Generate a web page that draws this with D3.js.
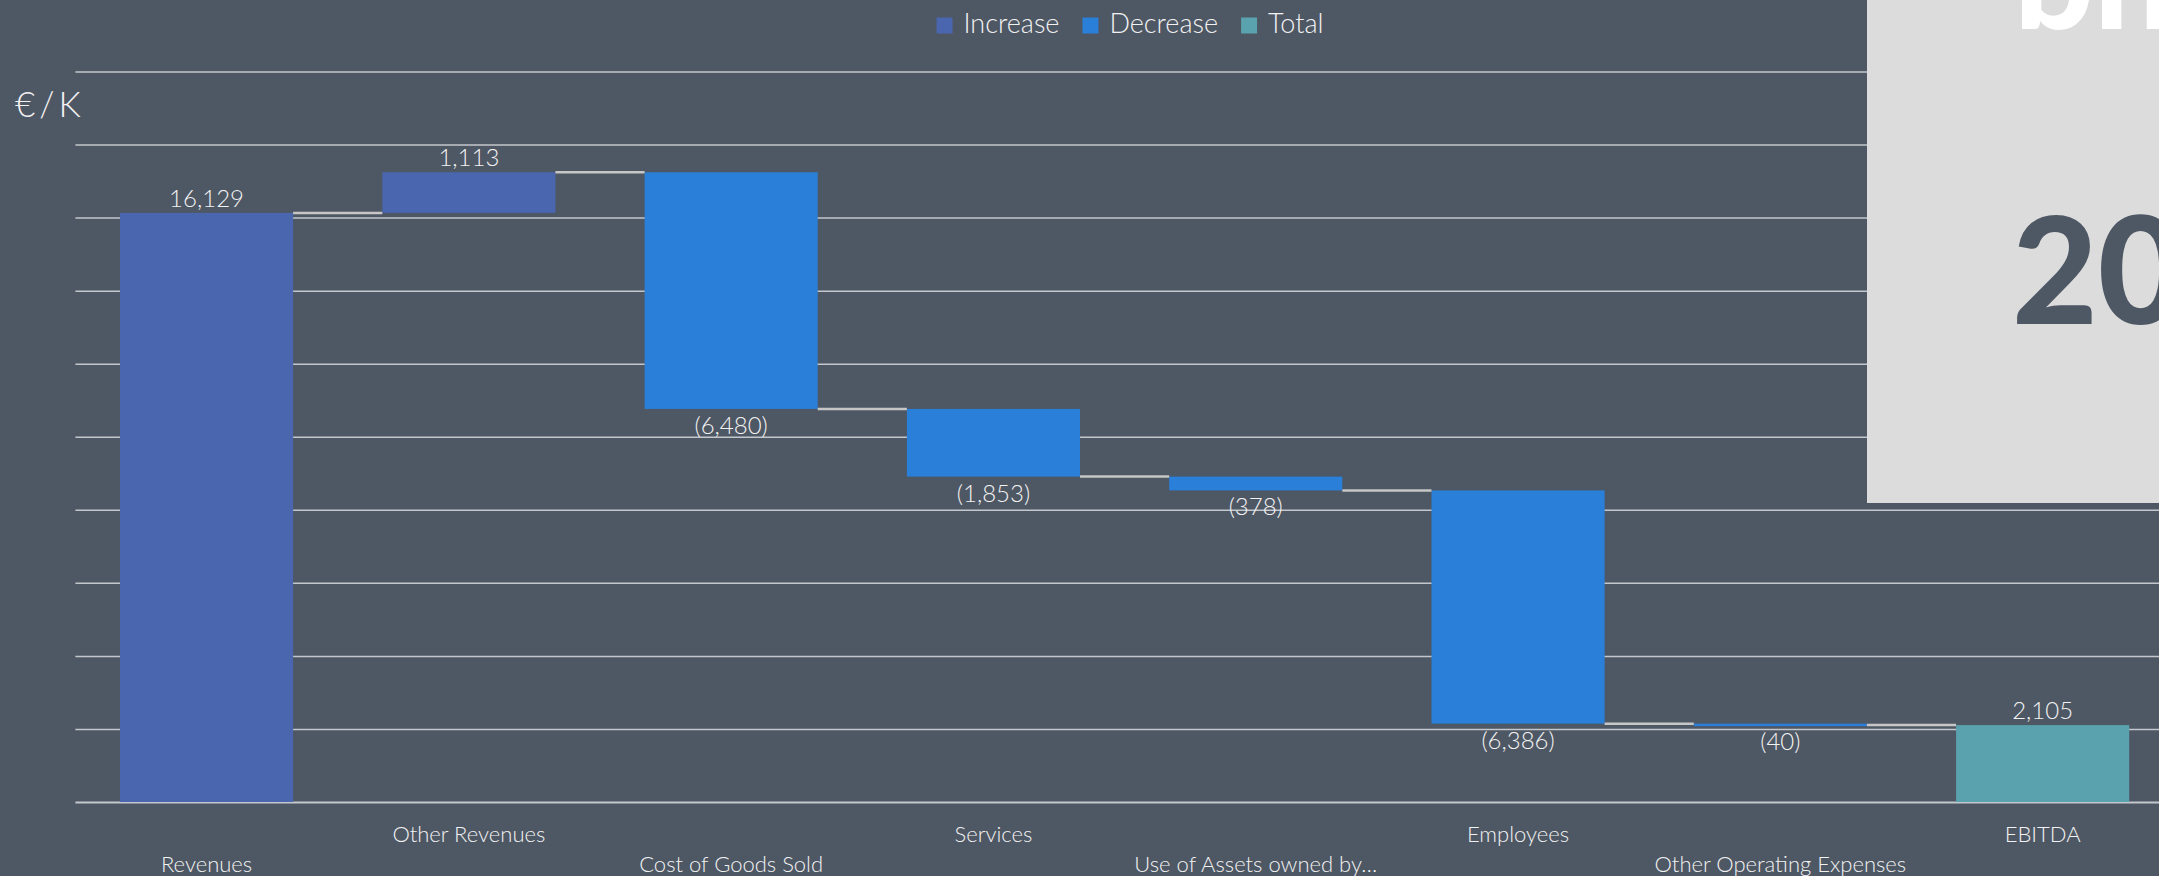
<!DOCTYPE html>
<html>
<head>
<meta charset="utf-8">
<script src="https://cdn.jsdelivr.net/npm/d3@7"></script>
<style>
  html, body { margin: 0; padding: 0; background: #4e5764; overflow: hidden; }
  svg { display: block; font-family: Lato, "Noto Sans", sans-serif; }
</style>
</head>
<body>
<div id="chart"></div>
<script>
// --------------------------------------
//  Data
// --------------------------------------

const categories = ["Revenues", "Other Revenues", "Cost of Goods Sold", "Services",
  "Use of Assets owned by…", "Employees", "Other Operating Expenses", "EBITDA"];
const values = [16129, 1113, -6480, -1853, -378, -6386, -40, 2105];
const kinds = ["Increase", "Increase", "Decrease", "Decrease", "Decrease", "Decrease", "Decrease", "Total"];
const legendKeys = ["Increase", "Decrease", "Total"];
const yTicks = [0, 2000, 4000, 6000, 8000, 10000, 12000, 14000, 16000, 18000, 20000];
const unitLabel = "€/K";

// --------------------------------------
//  Margin and canvas
// --------------------------------------

const width = 2159;
const height = 876;
const plot = {left: 75.4, right: 2173.8, top: 71.5, bottom: 802};

const svg = d3.select("#chart")
  .append("svg")
    .attr("width", width)
    .attr("height", height)
    .attr("viewBox", `0, 0, ${width}, ${height}`);

svg.append("rect")
    .attr("width", width)
    .attr("height", height)
    .attr("fill", "#4e5764");

// running totals for the waterfall
let running = 0;
const steps = categories.map((cat, i) => {
  let start, end;
  if (kinds[i] === "Total") {
    start = 0; end = values[i];
  } else {
    start = running; end = running + values[i];
  }
  running = end;
  return {cat, i, value: values[i], kind: kinds[i], start, end};
});

// --------------------------------------
//  Scales
// --------------------------------------

const x = d3.scaleBand()
    .domain(categories)
    .range([plot.left, plot.right])
    .paddingInner(0.34)
    .paddingOuter(0.17);

const y = d3.scaleLinear()
    .domain([0, 20000])
    .range([plot.bottom, plot.top]);

const color = d3.scaleOrdinal()
    .domain(legendKeys)
    .range(["#4a66ae", "#2a7fd8", "#5aa2ad"]);

const fmt = d3.format(",");
const labelText = d => d.value < 0 ? `(${fmt(-d.value)})` : fmt(d.value);

// --------------------------------------
//  Grid
// --------------------------------------

const grid = svg.append("g")
    .attr("transform", `translate(${plot.left}, 0)`)
    .call(d3.axisLeft(y)
      .tickValues(yTicks)
      .tickSize(-(plot.right - plot.left))
      .tickFormat(""));

grid.select(".domain").remove();
grid.selectAll(".tick line")
    .attr("stroke", "#c4c7cc")
    .attr("stroke-width", d => d === 0 ? 2.2 : 1.5);

// --------------------------------------
//  Bars
// --------------------------------------

svg.append("g")
  .selectAll("rect")
  .data(steps)
  .join("rect")
    .attr("x", d => x(d.cat))
    .attr("width", x.bandwidth())
    .attr("y", d => y(Math.max(d.start, d.end)))
    .attr("height", d => Math.max(2.5, Math.abs(y(d.start) - y(d.end))))
    .attr("fill", d => color(d.kind));

// connectors
svg.append("g")
  .selectAll("line")
  .data(steps.slice(0, -1))
  .join("line")
    .attr("x1", d => x(d.cat) + x.bandwidth())
    .attr("x2", d => x(categories[d.i + 1]))
    .attr("y1", d => y(d.end))
    .attr("y2", d => y(d.end))
    .attr("stroke", "#c6c6c6")
    .attr("stroke-width", 2.5);

// value labels
svg.append("g")
  .selectAll("text")
  .data(steps)
  .join("text")
    .attr("x", d => x(d.cat) + x.bandwidth() / 2)
    .attr("y", d => d.kind === "Decrease"
      ? y(Math.min(d.start, d.end)) + 25
      : y(Math.max(d.start, d.end)) - 6)
    .attr("text-anchor", "middle")
    .attr("fill", "#f2f2f2")
    .attr("font-size", 24)
    .attr("font-weight", 300)
    .text(labelText);

// category labels, staggered
svg.append("g")
  .selectAll("text")
  .data(categories)
  .join("text")
    .attr("x", d => x(d) + x.bandwidth() / 2)
    .attr("y", (d, i) => i % 2 === 0 ? 871.5 : 841.5)
    .attr("text-anchor", "middle")
    .attr("fill", "#f2f2f2")
    .attr("font-size", 22)
    .attr("font-weight", 300)
    .text(d => d);

// unit
svg.append("text")
    .attr("x", 15)
    .attr("y", 117)
    .attr("fill", "#f2f2f2")
    .attr("font-size", 35)
    .attr("font-weight", 300)
    .attr("letter-spacing", 4)
    .text(unitLabel);

// --------------------------------------
//  Legend
// --------------------------------------

const legend = svg.append("g");
let lx = 0;
legendKeys.forEach(k => {
  const item = legend.append("g").attr("transform", `translate(${lx}, 0)`);
  item.append("rect")
      .attr("y", 17.5)
      .attr("width", 16)
      .attr("height", 16)
      .attr("fill", color(k));
  const t = item.append("text")
      .attr("x", 27)
      .attr("y", 33)
      .attr("fill", "#f2f2f2")
      .attr("font-size", 27)
      .attr("font-weight", 300)
      .text(k);
  lx += 27 + t.node().getComputedTextLength() + 23;
});
const legendW = lx - 23;
legend.attr("transform", `translate(${1130 - legendW / 2}, 0)`);

// --------------------------------------
//  Slide overlay on the right
// --------------------------------------

svg.append("rect")
    .attr("x", 1867)
    .attr("y", 0)
    .attr("width", width - 1867)
    .attr("height", 503)
    .attr("fill", "#dcdcdc");

svg.append("text")
    .attr("x", 2014)
    .attr("y", 29)
    .attr("fill", "#ffffff")
    .attr("font-size", 140)
    .attr("font-weight", 900)
    .text("bn");

svg.append("text")
    .attr("x", 2012)
    .attr("y", 324)
    .attr("fill", "#4e5764")
    .attr("font-size", 148)
    .attr("font-weight", 900)
    .text("20");
</script>
</body>
</html>
